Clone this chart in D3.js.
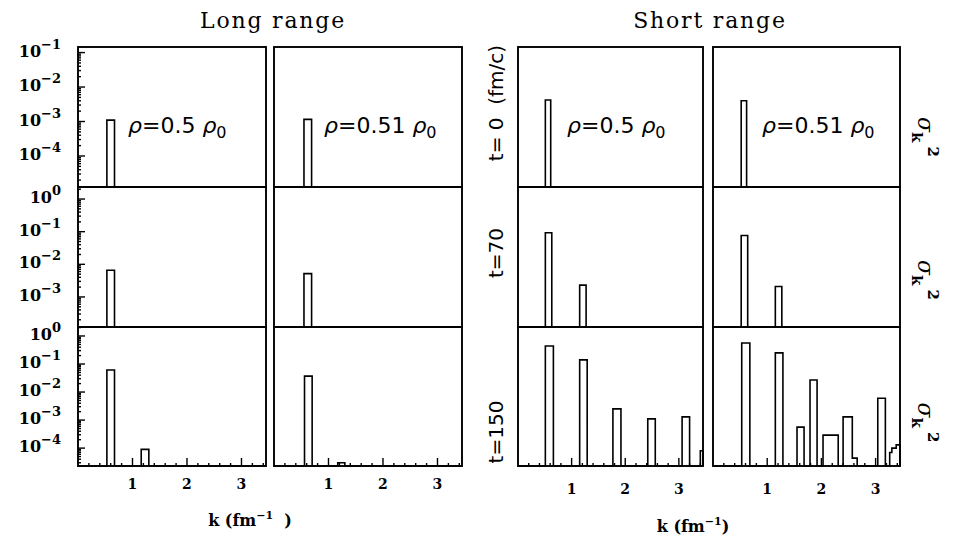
<!DOCTYPE html>
<html>
<head>
<meta charset="utf-8">
<script src="https://cdn.jsdelivr.net/npm/d3@7"></script>
<style>
  body { margin: 0; background: #fff; }
  svg { display: block; }
  .frame { fill: none; stroke: #000; stroke-width: 1.9; }
  .hist { fill: none; stroke: #000; stroke-width: 1.6; }
  .tick { stroke: #000; stroke-width: 1.4; }
  .title { font-family: "DejaVu Serif", serif; font-size: 22px; letter-spacing: 1.8px; text-anchor: middle; }
  .ylab { font-family: "DejaVu Serif", serif; font-weight: bold; font-size: 16px; text-anchor: end; }
  .xlab { font-family: "DejaVu Serif", serif; font-weight: bold; font-size: 14px; text-anchor: middle; }
  .rho { font-family: "DejaVu Sans", sans-serif; font-size: 22px; }
  .tlab { font-family: "DejaVu Sans", sans-serif; font-size: 20px; text-anchor: middle; white-space: pre; }
  .sig { font-family: "DejaVu Serif", serif; font-size: 22px; }
</style>
</head>
<body>
<svg id="chart" width="959" height="537"></svg>
<script>
// ── Data (k in fm^-1, sigma_k^2 values) ──
const groupTitles = ["Long range", "Short range"];
const densities = ["0.5", "0.51"];
const timeLabels = ["t= 0  (fm/c)", "t=70", "t=150"];
const kTicks = [1, 2, 3];
const kDomain = [0, 3.45];
const rowTickExps = [[-1, -2, -3, -4], [0, -1, -2, -3], [0, -1, -2, -3, -4]];
const rowDomains = [[1.26e-5, 0.145], [1.2e-4, 2.34], [2.3e-5, 2.09]];

// bins: [k0, k1, value], one list per row (t=0, 70, 150)
const longRho050 = [
  [[0.53, 0.67, 1.1e-3]],
  [[0.53, 0.67, 6.6e-3]],
  [[0.53, 0.67, 0.061], [1.16, 1.30, 9e-5]]
];
const longRho051 = [
  [[0.55, 0.69, 1.15e-3]],
  [[0.55, 0.69, 5.2e-3]],
  [[0.56, 0.70, 0.037], [1.17, 1.30, 3e-5]]
];
const shortRho050 = [
  [[0.51, 0.61, 4.2e-3]],
  [[0.51, 0.63, 0.093], [1.15, 1.27, 2.3e-3]],
  [[0.51, 0.66, 0.44], [1.15, 1.29, 0.14], [1.77, 1.92, 2.5e-3],
   [2.42, 2.56, 1.1e-3], [3.06, 3.20, 1.3e-3], [3.40, 3.45, 8e-5]]
];
const shortRho051 = [
  [[0.52, 0.62, 4.0e-3]],
  [[0.52, 0.64, 0.076], [1.15, 1.27, 2.1e-3]],
  [[0.53, 0.68, 0.56], [1.15, 1.29, 0.25], [1.55, 1.68, 5.6e-4],
   [1.79, 1.92, 0.027], [2.03, 2.31, 2.9e-4], [2.40, 2.57, 1.3e-3],
   [2.57, 2.66, 4.4e-5], [3.04, 3.18, 6e-3], [3.26, 3.30, 7e-5],
   [3.30, 3.38, 1e-4], [3.38, 3.45, 1.3e-4]]
];

// ── Layout ──
const colX = [78, 274, 518, 713];
const colW = [188, 188, 185, 187];
const rowY = [47, 187, 327];
const rowH = [140, 140, 139];

const panels = [
  { col: 0, group: 0, dens: 0, bins: longRho050, yAxis: true },
  { col: 1, group: 0, dens: 1, bins: longRho051, yAxis: false },
  { col: 2, group: 1, dens: 0, bins: shortRho050, yAxis: false },
  { col: 3, group: 1, dens: 1, bins: shortRho051, yAxis: false }
];

const svg = d3.select("#chart");

// step outline of the histogram
function stepPoints(bins, k0, k1, yMin) {
  const pts = [[k0, yMin]];
  let last = k0;
  bins.forEach(b => {
    if (b[0] > last + 1e-9) { pts.push([last, yMin]); pts.push([b[0], yMin]); }
    pts.push([b[0], b[2]]);
    pts.push([b[1], b[2]]);
    last = b[1];
  });
  pts.push([last, yMin]);
  pts.push([k1, yMin]);
  return pts;
}

panels.forEach(p => {
  const x = d3.scaleLinear().domain(kDomain).range([colX[p.col], colX[p.col] + colW[p.col]]);

  p.bins.forEach((rowBins, r) => {
    const y = d3.scaleLog().domain(rowDomains[r]).range([rowY[r] + rowH[r], rowY[r]]).clamp(true);
    const g = svg.append("g");

    const line = d3.line().x(d => x(d[0])).y(d => y(d[1]));
    g.append("path")
      .attr("class", "hist")
      .attr("d", line(stepPoints(rowBins, kDomain[0], kDomain[1], rowDomains[r][0])));

    g.append("rect")
      .attr("class", "frame")
      .attr("x", x(kDomain[0])).attr("y", rowY[r])
      .attr("width", colW[p.col]).attr("height", rowH[r]);

    // log y ticks (first panel only)
    if (p.yAxis) {
      const minor = [];
      const [lo, hi] = rowDomains[r];
      for (let e = Math.floor(Math.log10(lo)); e <= Math.ceil(Math.log10(hi)); e++) {
        for (let m = 2; m <= 9; m++) {
          const v = m * Math.pow(10, e);
          if (v > lo && v < hi) minor.push(v);
        }
      }
      g.selectAll(".ymin").data(minor).join("line")
        .attr("class", "tick")
        .attr("x1", x(kDomain[0])).attr("x2", x(kDomain[0]) + 3)
        .attr("y1", d => y(d)).attr("y2", d => y(d));
      g.selectAll(".ymaj").data(rowTickExps[r]).join("line")
        .attr("class", "tick")
        .attr("x1", x(kDomain[0])).attr("x2", x(kDomain[0]) + 7)
        .attr("y1", d => y(Math.pow(10, d))).attr("y2", d => y(Math.pow(10, d)));

      const lab = g.selectAll(".ylabt").data(rowTickExps[r]).join("text")
        .attr("class", "ylab")
        .attr("x", 61)
        .attr("y", d => y(Math.pow(10, d)) + 4);
      lab.append("tspan").text("10");
      lab.append("tspan").attr("dy", -8).attr("font-size", 13).text(d => d === 0 ? "0" : "\u2212" + (-d));
    }

    // k ticks on bottom row
    if (r === 2) {
      const base = rowY[r] + rowH[r];
      const minorK = d3.range(0.2, kDomain[1], 0.2).filter(k => Math.abs(k - Math.round(k)) > 0.05);
      g.selectAll(".kmin").data(minorK).join("line")
        .attr("class", "tick")
        .attr("x1", d => x(d)).attr("x2", d => x(d))
        .attr("y1", base).attr("y2", base - 3);
      g.selectAll(".kmaj").data(kTicks).join("line")
        .attr("class", "tick")
        .attr("x1", d => x(d)).attr("x2", d => x(d))
        .attr("y1", base).attr("y2", base - 8);
      g.selectAll(".klab").data(kTicks).join("text")
        .attr("class", "xlab")
        .attr("x", d => x(d))
        .attr("y", p.group === 0 ? 489 : 494)
        .text(d => d);
    }

    // density label in top row
    if (r === 0) {
      const t = g.append("text").attr("class", "rho")
        .attr("x", x(kDomain[0]) + (p.group === 0 ? 50 : 49))
        .attr("y", 133);
      t.append("tspan").attr("font-style", "italic").text("\u03c1");
      t.append("tspan").text("=" + densities[p.dens] + "\u00a0");
      t.append("tspan").attr("font-style", "italic").text("\u03c1");
      t.append("tspan").attr("dy", 5).attr("font-size", 16).text("0");
    }
  });
});

// ── Group titles ──
svg.selectAll(".gtitle").data(groupTitles).join("text")
  .attr("class", "title")
  .attr("x", (d, i) => i === 0 ? 273 : 710)
  .attr("y", 28)
  .text(d => d);

// ── x axis titles ──
[{ cx: 250, cy: 526, sp: true }, { cx: 693, cy: 532, sp: false }].forEach(a => {
  const t = svg.append("text").attr("class", "xlab").attr("x", a.cx).attr("y", a.cy)
    .style("font-size", "16px");
  t.append("tspan").text("k (fm");
  t.append("tspan").attr("dy", -7).attr("font-size", 11).text("\u22121");
  t.append("tspan").attr("dy", 7).text(a.sp ? "\u00a0\u00a0)" : ")");
});

// ── time labels (left of short range panels) ──
svg.selectAll(".tlabel").data(timeLabels).join("text")
  .attr("class", "tlab")
  .attr("transform", (d, i) => `translate(503,${[103, 253, 432][i]}) rotate(-90)`)
  .text(d => d);

// ── sigma_k^2 labels on the right ──
rowY.forEach((ry, r) => {
  const t = svg.append("text").attr("class", "sig")
    .attr("transform", `translate(918,${ry + rowH[r] / 2 + r * 3}) rotate(90)`);
  t.append("tspan").attr("font-style", "italic").text("\u03c3");
  t.append("tspan").attr("dy", 6).attr("font-size", 15).attr("font-weight", "bold").text("k");
  t.append("tspan").attr("dy", -16).attr("dx", 4).attr("font-size", 15).attr("font-weight", "bold").text("2");
});
</script>
</body>
</html>
